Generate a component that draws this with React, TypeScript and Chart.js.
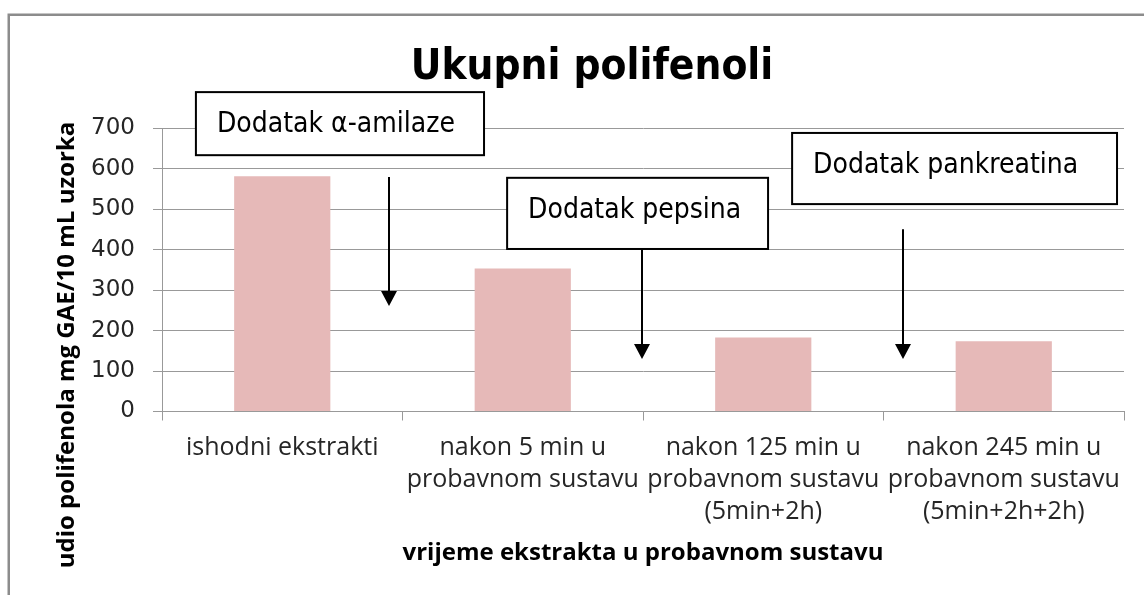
import React, { useEffect, useRef } from 'react';
import { Chart, registerables } from 'chart.js';

Chart.register(...registerables);

const TITLE = 'Ukupni polifenoli';
const Y_TITLE = 'udio polifenola mg GAE/10 mL uzorka';
const X_TITLE = 'vrijeme ekstrakta u probavnom sustavu';

const categories: string[][] = [
  ['ishodni ekstrakti'],
  ['nakon 5 min u', 'probavnom sustavu'],
  ['nakon 125 min u', 'probavnom sustavu', '(5min+2h)'],
  ['nakon 245 min u', 'probavnom sustavu', '(5min+2h+2h)'],
];
const values: number[] = [582, 354, 183, 174];
const yTicks = { min: 0, max: 700, step: 100 };

// annotations (category-index units on x, value units on y)
const noteTexts = ['Dodatak α-amilaze', 'Dodatak pepsina', 'Dodatak pankreatina'];
const noteBoxX = [[-0.359, 0.839], [0.935, 2.02], [2.12, 3.471]];
const noteBoxY = [[790, 634], [578, 402], [689, 513]];
const arrowX = [0.444, 1.496, 2.581];
const arrowY = [[580, 261], [402, 130], [451, 130]];

const CONDENSED = '"DejaVu Sans Condensed", "DejaVu Sans", sans-serif';
const LABEL_FONT = '"Open Sans", sans-serif';

const decor = {
  id: 'decor',
  afterDraw(chart: any) {
    const { ctx, scales } = chart;
    const x = scales.x;
    const y = scales.y;
    ctx.save();
    // outer frame (top + left visible)
    ctx.strokeStyle = '#8c8c8c';
    ctx.lineWidth = 2.5;
    ctx.beginPath();
    ctx.moveTo(8.75, 595);
    ctx.lineTo(8.75, 14.75);
    ctx.lineTo(1144, 14.75);
    ctx.stroke();

    // title
    ctx.fillStyle = '#000';
    ctx.font = `bold 42px ${CONDENSED}`;
    ctx.textAlign = 'center';
    ctx.textBaseline = 'alphabetic';
    ctx.fillText(TITLE, 592, 79);

    // y title
    ctx.save();
    ctx.translate(67, 345);
    ctx.rotate(-Math.PI / 2);
    ctx.font = `bold 24px ${LABEL_FONT}`;
    ctx.textBaseline = 'middle';
    ctx.textAlign = 'center';
    ctx.fillText(Y_TITLE, 0, 0);
    ctx.restore();

    // annotation boxes
    for (let i = 0; i < noteTexts.length; i++) {
      const l = x.getPixelForValue(noteBoxX[i][0]);
      const r = x.getPixelForValue(noteBoxX[i][1]);
      const t = y.getPixelForValue(noteBoxY[i][0]);
      const b = y.getPixelForValue(noteBoxY[i][1]);
      ctx.fillStyle = '#fff';
      ctx.fillRect(l, t, r - l, b - t);
      ctx.strokeStyle = '#000';
      ctx.lineWidth = 2;
      ctx.strokeRect(l, t, r - l, b - t);
      ctx.fillStyle = '#000';
      ctx.font = `28px ${CONDENSED}`;
      ctx.textAlign = 'left';
      ctx.textBaseline = 'alphabetic';
      ctx.fillText(noteTexts[i], l + 21, t + 40);
    }

    // arrows
    for (let i = 0; i < arrowX.length; i++) {
      const ax = Math.round(x.getPixelForValue(arrowX[i]));
      const y0 = y.getPixelForValue(arrowY[i][0]);
      const tip = y.getPixelForValue(arrowY[i][1]);
      ctx.strokeStyle = '#000';
      ctx.lineWidth = 2;
      ctx.beginPath();
      ctx.moveTo(ax, y0);
      ctx.lineTo(ax, tip - 14);
      ctx.stroke();
      ctx.fillStyle = '#000';
      ctx.beginPath();
      ctx.moveTo(ax - 8, tip - 15);
      ctx.lineTo(ax + 8, tip - 15);
      ctx.lineTo(ax, tip);
      ctx.closePath();
      ctx.fill();
    }
    ctx.restore();
  },
};

export default function App() {
  const ref = useRef<HTMLCanvasElement | null>(null);
  useEffect(() => {
    if (!ref.current) return;
    const chart = new Chart(ref.current, {
      type: 'bar',
      data: {
        labels: categories,
        datasets: [
          {
            data: values,
            backgroundColor: '#E6B9B8',
            borderWidth: 0,
            barPercentage: 0.4,
            categoryPercentage: 1,
          },
        ],
      },
      options: {
        responsive: false,
        animation: false,
        events: [],
        layout: { padding: { top: 128.5, left: 54, right: 20, bottom: 29 } },
        plugins: { legend: { display: false }, title: { display: false }, tooltip: { enabled: false } },
        scales: {
          x: {
            offset: true,
            grid: { offset: true, drawOnChartArea: false, drawTicks: true, tickLength: 9, color: '#999999', lineWidth: 1 },
            border: { display: true, color: '#999999', width: 1 },
            ticks: {
              autoSkip: false,
              maxRotation: 0,
              minRotation: 0,
              padding: 11,
              color: '#262626',
              font: { family: LABEL_FONT, size: 25, lineHeight: 32 / 25 },
            },
            title: {
              display: true,
              text: X_TITLE,
              color: '#000',
              padding: 0,
              font: { family: LABEL_FONT, size: 24, weight: 'bold', lineHeight: 1.1 },
            },
            afterFit: (s: any) => {
              s.height = 154.5;
            },
          },
          y: {
            min: yTicks.min,
            max: yTicks.max,
            ticks: {
              stepSize: yTicks.step,
              padding: 18,
              color: '#262626',
              font: { family: '"DejaVu Sans", sans-serif', size: 23 },
            },
            grid: { color: '#999999', lineWidth: 1, tickLength: 9, drawTicks: true },
            border: { display: true, color: '#999999', width: 1 },
            afterFit: (s: any) => {
              s.width = 108;
            },
          },
        },
      },
      plugins: [decor],
    });
    return () => chart.destroy();
  }, []);
  return (
    <div style={{ position: 'fixed', left: 0, top: 0, width: 1144, height: 595, background: '#fff' }}>
      <canvas ref={ref} width={1144} height={595} style={{ display: 'block' }} />
    </div>
  );
}
